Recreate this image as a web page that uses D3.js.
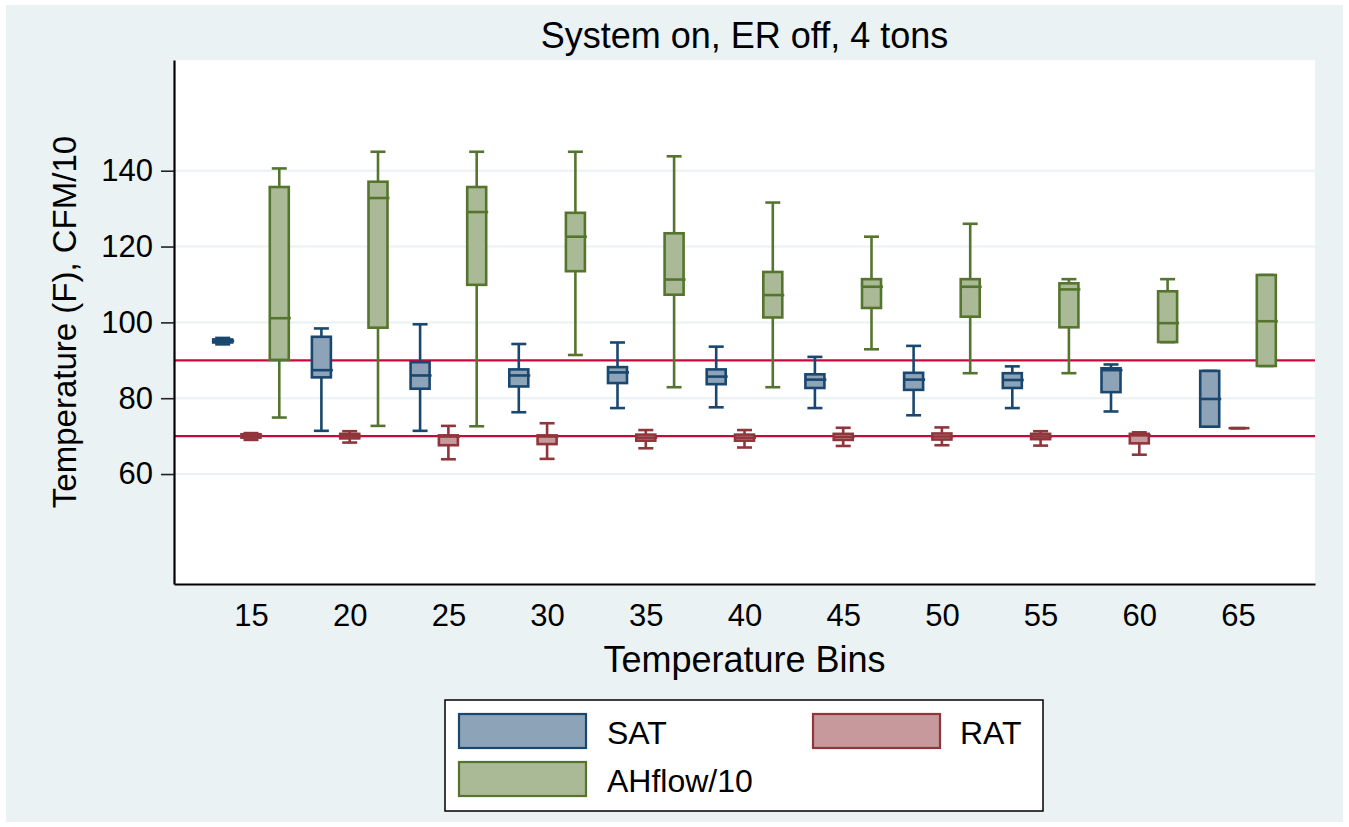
<!DOCTYPE html>
<html>
<head>
<meta charset="utf-8">
<script src="https://cdn.jsdelivr.net/npm/d3@7"></script>
<style>
  html, body { margin: 0; padding: 0; background: #ffffff; }
  svg { display: block; font-family: "Liberation Sans", Arial, sans-serif; }
</style>
</head>
<body>
<svg id="chart" width="1349" height="827"></svg>
<script>
// ---------- data ----------
const categories = ["15","20","25","30","35","40","45","50","55","60","65"];
const seriesNames = ["SAT","RAT","AHflow/10"];

const satMin = [94.2, 71.4, 71.4, 76.3, 77.4, 77.6, 77.4, 75.5, 77.4, 76.5, 72.5];
const satQ1  = [94.7, 85.5, 82.5, 83.1, 84.0, 83.7, 82.7, 82.2, 82.7, 81.6, 72.5];
const satMed = [95.1, 87.4, 86.0, 86.0, 86.8, 85.7, 84.9, 84.9, 84.8, 87.4, 79.8];
const satQ3  = [95.5, 96.2, 89.5, 87.6, 88.2, 87.6, 86.3, 86.7, 86.6, 87.9, 87.2];
const satMax = [95.9, 98.4, 99.5, 94.3, 94.7, 93.6, 90.9, 93.8, 88.4, 88.9, 87.2];

const ratMin = [69.0, 68.3, 63.9, 64.0, 66.8, 67.0, 67.4, 67.6, 67.5, 65.1, 72.1];
const ratQ1  = [69.6, 69.4, 67.6, 67.9, 68.8, 68.8, 69.0, 69.1, 69.2, 68.1, 72.1];
const ratMed = [70.1, 70.0, 69.9, 69.9, 69.6, 69.6, 69.8, 69.9, 69.9, 70.2, 72.1];
const ratQ3  = [70.5, 70.6, 70.2, 70.2, 70.4, 70.4, 70.6, 70.7, 70.6, 70.6, 72.1];
const ratMax = [70.8, 71.3, 72.7, 73.4, 71.6, 71.6, 72.2, 72.3, 71.3, 71.0, 72.1];

const ahMin = [74.9, 72.7, 72.6, 91.4, 82.9, 82.9, 92.9, 86.6, 86.6, 94.8, 88.5];
const ahQ1  = [90.1, 98.6, 109.9, 113.5, 107.3, 101.3, 103.8, 101.5, 98.7, 94.8, 88.5];
const ahMed = [101.1, 132.8, 129.1, 122.6, 111.3, 107.2, 109.4, 109.4, 108.7, 99.8, 100.3];
const ahQ3  = [135.7, 137.1, 135.7, 128.9, 123.5, 113.3, 111.4, 111.4, 110.3, 108.2, 112.5];
const ahMax = [140.6, 145.0, 145.0, 145.0, 143.8, 131.6, 122.6, 126.0, 111.4, 111.4, 112.5];

const yTicks = [60, 80, 100, 120, 140];
const refLines = [70, 90];

// ---------- layout ----------
const svg = d3.select("#chart");
const W = 1349, H = 827;
const plot = { left: 174, top: 60, right: 1315, bottom: 584 };

const colors = {
  "SAT":       { stroke: "#1a476f", fill: "#8ca3b8" },
  "RAT":       { stroke: "#90353b", fill: "#c8999c" },
  "AHflow/10": { stroke: "#55752f", fill: "#abba96" }
};

const series = [
  { name: "SAT", min: satMin, q1: satQ1, med: satMed, q3: satQ3, max: satMax },
  { name: "RAT", min: ratMin, q1: ratQ1, med: ratMed, q3: ratQ3, max: ratMax },
  { name: "AHflow/10", min: ahMin, q1: ahQ1, med: ahMed, q3: ahQ3, max: ahMax }
];

// background
svg.append("rect").attr("x", 0).attr("y", 0).attr("width", W).attr("height", H).attr("fill", "#ffffff");
svg.append("rect").attr("x", 6).attr("y", 5).attr("width", 1337).attr("height", 817).attr("fill", "#eaf2f3");
svg.append("rect").attr("x", plot.left).attr("y", plot.top)
  .attr("width", plot.right - plot.left).attr("height", plot.bottom - plot.top).attr("fill", "#ffffff");

// scales
const x = d3.scalePoint().domain(categories).range([plot.left, plot.right]).padding(0.78);
const xSeries = d3.scalePoint().domain(seriesNames).range([-28.3, 28.3]);
const y = d3.scaleLinear().domain([31, 169.2]).range([plot.bottom, plot.top]);

// grid lines
svg.append("g").selectAll("line").data(yTicks).join("line")
  .attr("x1", plot.left).attr("x2", plot.right)
  .attr("y1", d => y(d)).attr("y2", d => y(d))
  .attr("stroke", "#eaf2f3").attr("stroke-width", 2);

// reference lines
svg.append("g").selectAll("line").data(refLines).join("line")
  .attr("x1", plot.left).attr("x2", plot.right)
  .attr("y1", d => y(d)).attr("y2", d => y(d))
  .attr("stroke", "#c8073b").attr("stroke-width", 2.2);

// boxes
const boxW = 19, capW = 15, sw = 2.6;
series.forEach(s => {
  const g = svg.append("g");
  const c = colors[s.name];
  categories.forEach((cat, i) => {
    const cx = x(cat) + xSeries(s.name);
    // whiskers
    g.append("line").attr("x1", cx).attr("x2", cx).attr("y1", y(s.q3[i])).attr("y2", y(s.max[i]))
      .attr("stroke", c.stroke).attr("stroke-width", sw);
    g.append("line").attr("x1", cx).attr("x2", cx).attr("y1", y(s.q1[i])).attr("y2", y(s.min[i]))
      .attr("stroke", c.stroke).attr("stroke-width", sw);
    // caps
    [s.max[i], s.min[i]].forEach(v => {
      g.append("line").attr("x1", cx - capW / 2).attr("x2", cx + capW / 2)
        .attr("y1", y(v)).attr("y2", y(v))
        .attr("stroke", c.stroke).attr("stroke-width", sw);
    });
    // box
    g.append("rect").attr("x", cx - boxW / 2).attr("y", y(s.q3[i]))
      .attr("width", boxW).attr("height", Math.max(0, y(s.q1[i]) - y(s.q3[i])))
      .attr("fill", c.fill).attr("stroke", c.stroke).attr("stroke-width", sw);
    // median
    g.append("line").attr("x1", cx - boxW / 2).attr("x2", cx + boxW / 2 + 2)
      .attr("y1", y(s.med[i])).attr("y2", y(s.med[i]))
      .attr("stroke", c.stroke).attr("stroke-width", sw);
  });
});

// y axis
const yAxis = svg.append("g").attr("transform", `translate(${plot.left},0)`)
  .call(d3.axisLeft(y).tickValues(yTicks).tickSize(13).tickSizeOuter(0).tickPadding(8).tickFormat(d3.format("d")));
yAxis.select(".domain").attr("stroke", "#000").attr("stroke-width", 2.2);
yAxis.selectAll(".tick line").attr("stroke", "#222").attr("stroke-width", 1.6);
yAxis.selectAll(".tick text").attr("font-size", 31).attr("fill", "#000")
  .attr("font-family", "Liberation Sans, Arial, sans-serif");

// x axis
const xAxis = svg.append("g").attr("transform", `translate(0,${plot.bottom})`)
  .call(d3.axisBottom(x).tickSize(0).tickSizeOuter(0).tickPadding(20));
xAxis.select(".domain").attr("stroke", "#000").attr("stroke-width", 2.2);
xAxis.selectAll(".tick text").attr("font-size", 31).attr("fill", "#000")
  .attr("font-family", "Liberation Sans, Arial, sans-serif");

// titles
svg.append("text").attr("x", (plot.left + plot.right) / 2).attr("y", 48)
  .attr("text-anchor", "middle").attr("font-size", 36).attr("fill", "#000")
  .text("System on, ER off, 4 tons");
svg.append("text").attr("x", (plot.left + plot.right) / 2).attr("y", 672)
  .attr("text-anchor", "middle").attr("font-size", 36).attr("fill", "#000")
  .text("Temperature Bins");
svg.append("text")
  .attr("transform", `translate(76,${(plot.top + plot.bottom) / 2}) rotate(-90)`)
  .attr("text-anchor", "middle").attr("font-size", 33).attr("fill", "#000")
  .text("Temperature (F), CFM/10");

// legend
const lg = svg.append("g");
lg.append("rect").attr("x", 445).attr("y", 700).attr("width", 598).attr("height", 111)
  .attr("fill", "#ffffff").attr("stroke", "#000").attr("stroke-width", 1.5);
const legendItems = [
  { name: "SAT", sx: 459, sy: 714, tx: 607, ty: 744 },
  { name: "RAT", sx: 813, sy: 714, tx: 960, ty: 744 },
  { name: "AHflow/10", sx: 459, sy: 762, tx: 607, ty: 792 }
];
legendItems.forEach(d => {
  lg.append("rect").attr("x", d.sx).attr("y", d.sy).attr("width", 127).attr("height", 34)
    .attr("fill", colors[d.name].fill).attr("stroke", colors[d.name].stroke).attr("stroke-width", 2.2);
  lg.append("text").attr("x", d.tx).attr("y", d.ty).attr("font-size", 32).attr("fill", "#000").text(d.name);
});
</script>
</body>
</html>
